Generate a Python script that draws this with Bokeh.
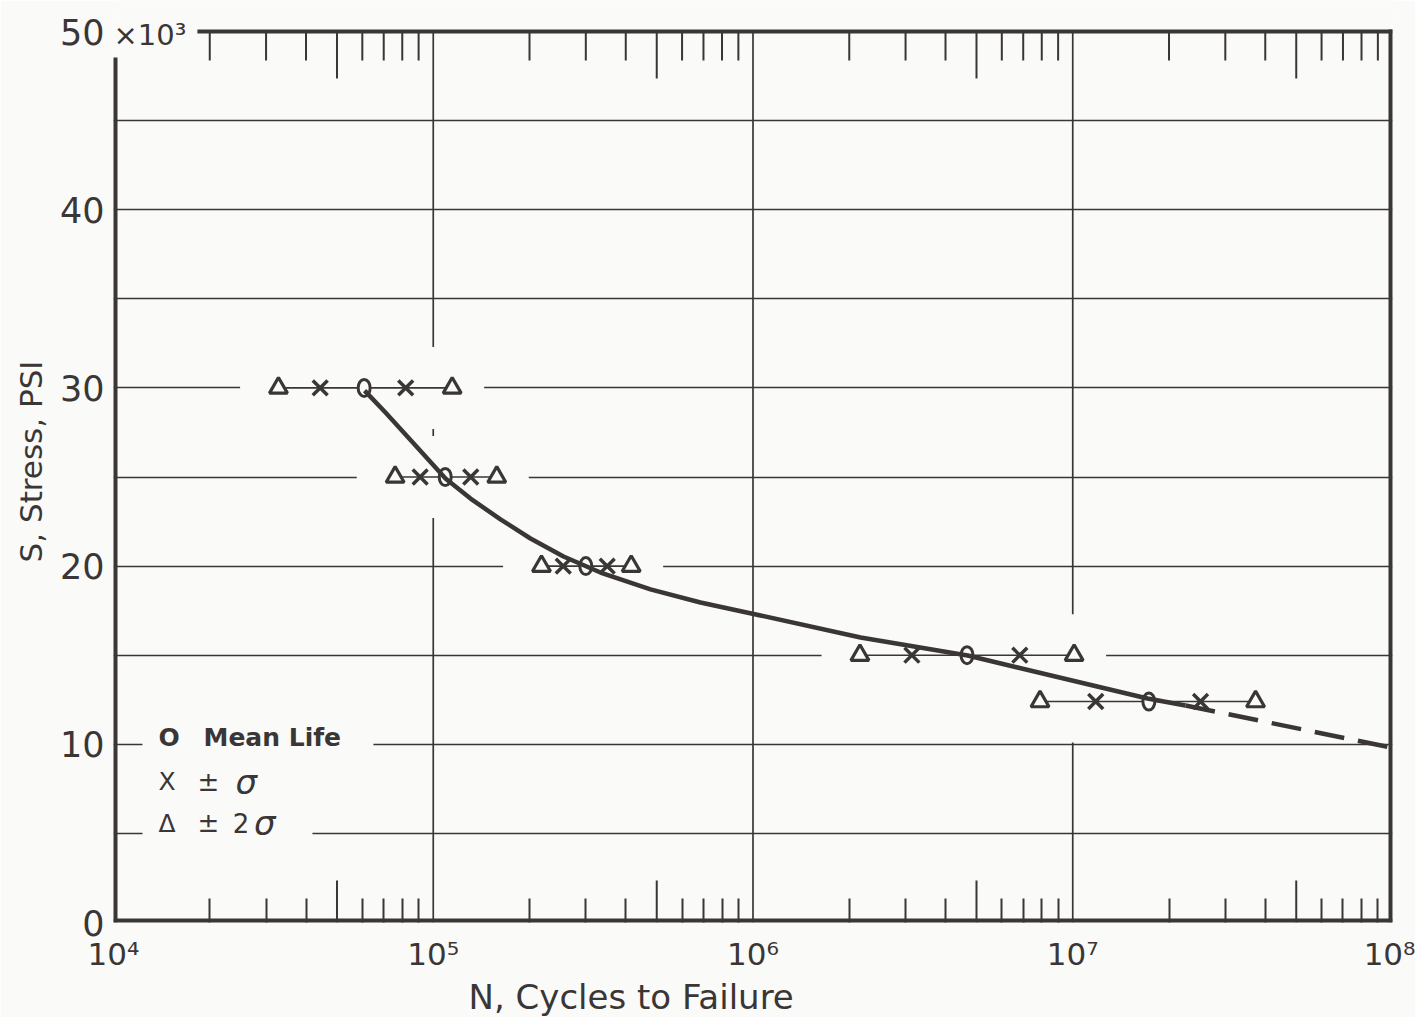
import numpy as np
from bokeh.plotting import figure
from bokeh.models import FixedTicker, Label, Title
from bokeh.embed import file_html
from bokeh.resources import INLINE

# ---------------- data ----------------
stress = [30.0, 25.0, 20.0, 15.0, 12.4]                 # ksi
mean_life = [6.08e4, 1.09e5, 3.00e5, 4.67e6, 1.73e7]    # O
minus_sigma = [4.43e4, 9.10e4, 2.55e5, 3.14e6, 1.18e7]  # X (-sigma)
plus_sigma = [8.20e4, 1.31e5, 3.50e5, 6.83e6, 2.51e7]   # X (+sigma)
minus_2sigma = [3.28e4, 7.60e4, 2.18e5, 2.16e6, 7.90e6]  # triangle (-2 sigma)
plus_2sigma = [1.146e5, 1.58e5, 4.16e5, 1.01e7, 3.73e7]  # triangle (+2 sigma)

curve_n = [6.10e4, 7.09e4, 8.19e4, 9.46e4, 1.092e5, 1.308e5, 1.623e5, 2.014e5,
           2.555e5, 3.335e5, 4.78e5, 6.85e5, 1.056e6, 2.17e6, 4.69e6,
           1.713e7, 2.252e7]
curve_s = [29.85, 28.62, 27.39, 26.15, 24.92, 23.79, 22.62, 21.55,
           20.54, 19.64, 18.69, 17.96, 17.23, 15.99, 14.98,
           12.57, 12.18]
extrap_n = [2.252e7, 1.0e8]
extrap_s = [12.18, 9.8]

x_decades = [1e4, 1e5, 1e6, 1e7, 1e8]
x_tick_labels = ["10\u2074", "10\u2075", "10\u2076", "10\u2077", "10\u2078"]
y_ticks = [0, 10, 20, 30, 40, 50]
y_tick_labels = ["0", "10", "20", "30", "40", "50"]
y_top_suffix = "\u00d710\u00b3"
y_grid = [5, 10, 15, 20, 25, 30, 35, 40, 45]
minor_mult = [2, 3, 4, 6, 7, 8, 9]

x_title = "N, Cycles to Failure"
y_title = "S, Stress, PSI"

# ---------------- style ----------------
INK = "#3a3636"
BG = "#fafaf9"
FONT = "DejaVu Sans"
PX_PER_UNIT = 17.82          # vertical pixels per 1 ksi

exps = [4, 5, 6, 7]
minor_x = [m * 10.0 ** k for k in exps for m in minor_mult]
mid_x = [5 * 10.0 ** k for k in exps]
Y_TOP = 50.0
Y_MAX = Y_TOP + 31 / PX_PER_UNIT   # frame reaches the top of the canvas

p = figure(width=1415, height=1017, x_axis_type="log",
           x_range=(1e4, 1e8), y_range=(0, Y_MAX),
           output_backend="svg", toolbar_location=None, title=None,
           min_border_left=113, min_border_right=23,
           min_border_top=0, min_border_bottom=95,
           background_fill_color=BG, border_fill_color=BG,
           outline_line_color=None)

# bottom axis: decade labels + short minor ticks pointing inward
xa = p.xaxis[0]
xa.ticker = FixedTicker(ticks=x_decades, minor_ticks=minor_x)
xa.major_label_overrides = {int(v): t for v, t in zip(x_decades, x_tick_labels)}
xa.axis_line_color = None
xa.major_tick_in = 0
xa.major_tick_out = 0
xa.minor_tick_in = 24
xa.minor_tick_out = 0
xa.minor_tick_line_width = 2
xa.minor_tick_line_color = INK
xa.major_label_standoff = 13
xa.major_label_text_font = FONT
xa.major_label_text_font_size = "31px"
xa.major_label_text_color = INK

p.add_layout(Title(text=x_title, align="left", offset=355, standoff=0,
                   text_font=FONT, text_font_size="34px",
                   text_font_style="normal", text_color=INK), "below")

# left axis
ya = p.yaxis[0]
ya.ticker = FixedTicker(ticks=y_ticks)
ya.major_label_overrides = {v: t for v, t in zip(y_ticks, y_tick_labels)}
ya.axis_line_color = None
ya.major_tick_in = 0
ya.major_tick_out = 0
ya.minor_tick_line_color = None
ya.major_label_standoff = 9
ya.major_label_text_font = FONT
ya.major_label_text_font_size = "35px"
ya.major_label_text_color = INK
ya.axis_label = y_title
ya.axis_label_standoff = 8
ya.axis_label_text_font = FONT
ya.axis_label_text_font_size = "31px"
ya.axis_label_text_font_style = "normal"
ya.axis_label_text_color = INK

# grids
p.xgrid.visible = False
p.ygrid.ticker = FixedTicker(ticks=y_grid)
p.ygrid.grid_line_color = INK
p.ygrid.grid_line_width = 1.7
inner = x_decades[1:-1]
p.segment(x0=inner, y0=[0] * len(inner), x1=inner, y1=[Y_TOP] * len(inner),
          line_width=1.7, line_color=INK)

# ticks: long ones at 5 x 10^k (bottom and top), short minor ones on top
p.segment(x0=mid_x, y0=[0] * 4, x1=mid_x, y1=[42 / PX_PER_UNIT] * 4,
          line_width=2, line_color=INK)
p.segment(x0=mid_x, y0=[Y_TOP] * 4, x1=mid_x,
          y1=[Y_TOP - 47 / PX_PER_UNIT] * 4, line_width=2, line_color=INK)
p.segment(x0=minor_x, y0=[Y_TOP] * len(minor_x), x1=minor_x,
          y1=[Y_TOP - 29 / PX_PER_UNIT] * len(minor_x),
          line_width=2, line_color=INK)

# heavy frame, open at the top-left corner for the 50x10^3 label
p.segment(x0=[1e4, 1e4, 1e8], y0=[0, 0, 0], x1=[1e4, 1e8, 1e8],
          y1=[48.54, 0, Y_TOP + 2 / PX_PER_UNIT], line_width=8, line_color=INK)
p.segment(x0=[1.83e4], y0=[Y_TOP], x1=[1e8], y1=[Y_TOP],
          line_width=4, line_color=INK)

# white-out of the grid around each data row
p.quad(left=[v / 10 ** 0.12 for v in minus_2sigma],
       right=[v * 10 ** 0.10 for v in plus_2sigma],
       bottom=[s - 2.3 for s in stress], top=[s + 2.3 for s in stress],
       fill_color=BG, line_color=None)

# white-out of the grid behind the legend text
p.quad(left=[1.232e4, 1.232e4], right=[6.5e4, 4.19e4],
       bottom=[9.5, 4.5], top=[10.5, 5.5], fill_color=BG, line_color=None)

# scatter-band lines
p.segment(x0=minus_2sigma, y0=stress, x1=plus_2sigma, y1=stress,
          line_width=1.6, line_color=INK)

# markers
p.scatter(x=minus_2sigma + plus_2sigma, y=stress + stress, marker="triangle",
          size=18, line_width=3.2, line_color=INK, fill_color=BG)
p.scatter(x=minus_sigma + plus_sigma, y=stress + stress, marker="x",
          size=21, line_width=3.5, line_color=INK)
p.ellipse(x=mean_life, y=stress, width=12, height=17,
          width_units="screen", height_units="screen",
          line_width=3, line_color=INK, fill_color=BG)

# S-N curve
p.line(curve_n, curve_s, line_width=4.5, line_color=INK, line_join="round")
p.line(extrap_n, extrap_s, line_width=4.5, line_color=INK, line_dash="30 14")


def lab(x, y, text, size, **kw):
    d = dict(x=x, y=y, text=text, text_font=FONT, text_font_size=size,
             text_color=INK, text_baseline="middle", text_align="left")
    d.update(kw)
    p.add_layout(Label(**d))


# "x10^3" next to the 50 tick label
lab(1e4, 49.78, y_top_suffix, "29px", x_offset=0)

# legend
lab(1.383e4, 10.38, "O", "25px", text_font_style="bold")
lab(1.912e4, 10.38, "Mean Life", "25px", text_font_style="bold")
lab(1.383e4, 7.91, "X", "25px")
lab(1.831e4, 7.91, "\u00b1", "26px")
lab(2.406e4, 7.91, "\u03c3", "34px", text_font_style="italic")
lab(1.383e4, 5.56, "\u0394", "25px")
lab(1.831e4, 5.56, "\u00b1", "26px")
lab(2.36e4, 5.56, "2", "26px")
lab(2.75e4, 5.56, "\u03c3", "34px", text_font_style="italic")

open("out.html", "w").write(file_html(p, INLINE))
